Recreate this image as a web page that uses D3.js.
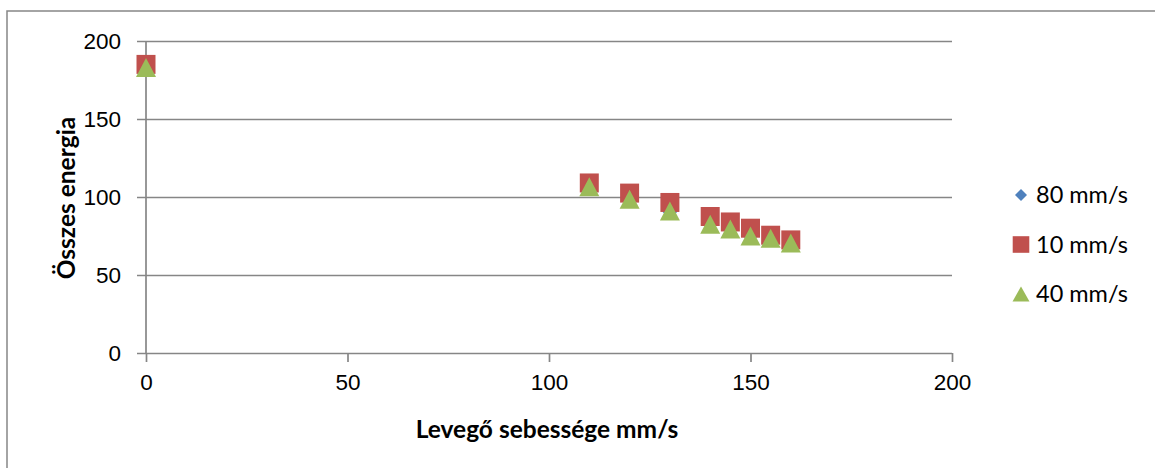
<!DOCTYPE html>
<html>
<head>
<meta charset="utf-8">
<script src="https://cdn.jsdelivr.net/npm/d3@7"></script>
<style>
  body { margin: 0; background: #fff; }
  svg { display: block; font-family: Lato, "Open Sans", sans-serif; }
</style>
</head>
<body>
<svg id="chart" width="1155" height="468"></svg>
<script>
// levegő sebessége (x)
const speeds = [0, 110, 120, 130, 140, 145, 150, 155, 160];
// összes energia, sorozatonként
const series80 = [185, 106.5, 98.5, 90.5, 83, 79.5, 75, 73, 71];
const series10 = [185, 109, 102.5, 96.5, 87.5, 84, 80, 75.5, 72.5];
const series40 = [183, 106.5, 98.5, 91, 82.5, 79.5, 75, 73.5, 70.5];
const seriesNames = ["80 mm/s", "10 mm/s", "40 mm/s"];
const xTicks = [0, 50, 100, 150, 200];
const yTicks = [0, 50, 100, 150, 200];

const svg = d3.select("#chart");
const gridColor = "#868686";

// keret (csak bal és felső széle látszik)
svg.append("rect")
  .attr("x", 7).attr("y", 11)
  .attr("width", 1160).attr("height", 470)
  .attr("fill", "none")
  .attr("stroke", gridColor)
  .attr("stroke-width", 1.5);

const x = d3.scaleLinear().domain([0, 200]).range([146, 952]);
const y = d3.scaleLinear().domain([0, 200]).range([353, 41]);

// vízszintes rácsvonalak + y tengely
const yAxis = d3.axisLeft(y).tickValues(yTicks).tickSize(-(952 - 137)).tickPadding(16).tickSizeOuter(0);
const gy = svg.append("g").attr("transform", "translate(137,0)").call(yAxis);
gy.select(".domain").remove();
gy.selectAll("line").attr("stroke", gridColor).attr("stroke-width", 1.7);
gy.selectAll("text").attr("font-size", 22.5).attr("fill", "#000");

// x tengely tick-ek
const xAxis = d3.axisBottom(x).tickValues(xTicks).tickSize(9).tickPadding(12).tickSizeOuter(0);
const gx = svg.append("g").attr("transform", "translate(0,353)").call(xAxis);
gx.select(".domain").remove();
gx.selectAll("line").attr("stroke", gridColor).attr("stroke-width", 1.7);
gx.selectAll("text").attr("font-size", 22.5).attr("fill", "#000");

// függőleges tengely x=0-nál
svg.append("line")
  .attr("x1", x(0)).attr("x2", x(0))
  .attr("y1", y(200)).attr("y2", y(0))
  .attr("stroke", gridColor).attr("stroke-width", 1.7);

// jelölők
const diamond = s => `M0,${-s}L${s},0L0,${s}L${-s},0Z`;
const square = s => `M${-s},${-s}H${s}V${s}H${-s}Z`;
const triangle = (w, h) => `M0,${-h / 2}L${w / 2},${h / 2}L${-w / 2},${h / 2}Z`;

const markers = [
  { name: seriesNames[0], values: series80, color: "#4F81BD", path: diamond(7.5), legend: diamond(6) },
  { name: seriesNames[1], values: series10, color: "#C0504D", path: square(9.5), legend: square(8.3) },
  { name: seriesNames[2], values: series40, color: "#9BBB59", path: triangle(20, 19), legend: triangle(17, 15) }
];

markers.forEach(m => {
  svg.append("g")
    .selectAll("path")
    .data(m.values)
    .enter()
    .append("path")
    .attr("transform", (d, i) => `translate(${x(speeds[i])},${y(d)})`)
    .attr("d", m.path)
    .attr("fill", m.color);
});

// jelmagyarázat
const legend = svg.append("g");
markers.forEach((m, i) => {
  const cy = 195 + i * 49.5;
  legend.append("path")
    .attr("transform", `translate(1021,${cy})`)
    .attr("d", m.legend)
    .attr("fill", m.color);
  legend.append("text")
    .attr("x", 1036).attr("y", cy + 8)
    .attr("font-size", 23.5)
    .text(m.name);
});

// tengelycímek
svg.append("text")
  .attr("x", 547).attr("y", 438)
  .attr("text-anchor", "middle")
  .attr("font-size", 24.5).attr("font-weight", "bold")
  .text("Levegő sebessége mm/s");

svg.append("text")
  .attr("transform", "translate(75,198) rotate(-90)")
  .attr("text-anchor", "middle")
  .attr("font-size", 24.5).attr("font-weight", "bold")
  .text("Összes energia");
</script>
</body>
</html>
